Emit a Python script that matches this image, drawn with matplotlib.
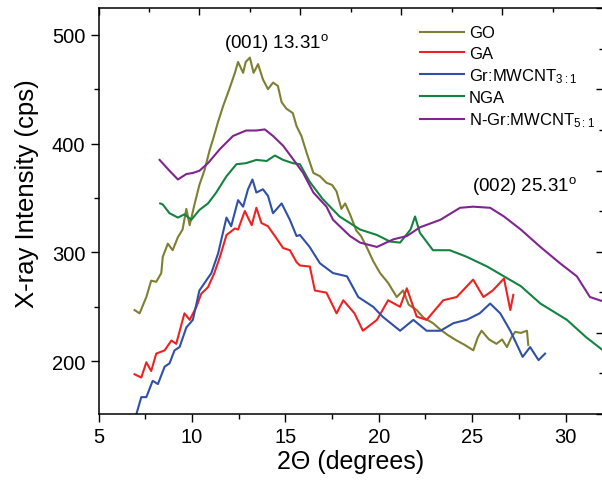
import numpy as np
import matplotlib
matplotlib.use("Agg")
import matplotlib.pyplot as plt
from matplotlib.ticker import MultipleLocator

plt.rcParams['font.family'] = ['Liberation Sans', 'DejaVu Sans']
plt.rcParams['mathtext.fontset'] = 'custom'
plt.rcParams['mathtext.rm'] = 'Liberation Sans'
plt.rcParams['mathtext.it'] = 'Liberation Sans'

# Data (2theta in degrees, intensity in cps)
go_x = [6.93, 7.2, 7.56, 7.82, 8.09, 8.36, 8.44, 8.71, 8.97, 9.25, 9.5, 9.7, 9.88,
        10.15, 10.4, 10.68, 10.95, 11.13, 11.4, 11.66, 12.0, 12.3, 12.47, 12.74,
        12.88, 13.1, 13.3, 13.54, 13.8, 14.07, 14.34, 14.6, 14.8, 15.06, 15.4,
        15.6, 15.86, 16.13, 16.5, 16.85, 17.2, 17.5, 17.74, 18.0, 18.2, 18.46,
        18.8, 19.05, 19.35, 19.7, 20.07, 20.5, 20.96, 21.3, 21.6, 22.03, 22.4,
        22.9, 23.3, 23.7, 24.17, 24.6, 25.06, 25.3, 25.5, 25.9, 26.3, 26.6,
        26.86, 27.1, 27.3, 27.6, 27.93, 28.0]
go_y = [247, 244, 259, 274, 273, 281, 296, 308, 302, 314, 321, 340, 325,
        345, 362, 376, 394, 404, 420, 434, 450, 465, 475, 465,
        475, 479, 465, 473, 459, 450, 456, 453, 438, 432, 428,
        416, 407, 392, 373, 370, 364, 362, 356, 340, 345, 335,
        320, 315, 305, 292, 281, 272, 259, 265, 252, 247, 240,
        235, 229, 224, 219, 215, 210, 222, 228, 220, 216, 220,
        213, 222, 227, 226, 228, 215]

ga_x = [6.93, 7.29, 7.56, 7.82, 8.09, 8.54, 8.9, 9.16, 9.6, 9.88, 10.24, 10.5,
        10.86, 11.2, 11.5, 11.85, 12.3, 12.47, 12.83, 13.2, 13.45, 13.72, 14.07,
        14.44, 14.88, 15.24, 15.6, 15.78, 16.31, 16.58, 17.2, 17.74, 18.1, 18.7,
        19.15, 19.9, 20.5, 21.14, 21.5, 22.03, 22.56, 23.45, 24.17, 25.05, 25.6,
        26.1, 26.7, 27.04, 27.2]
ga_y = [188, 185, 199, 191, 207, 210, 219, 216, 244, 238, 250, 262,
        268, 281, 296, 316, 322, 321, 338, 325, 341, 327, 324,
        315, 304, 302, 291, 288, 287, 265, 263, 244, 256, 244,
        228, 238, 256, 250, 267, 241, 238, 256, 259, 275, 259,
        265, 276, 247, 261]

gr_x = [7.02, 7.29, 7.56, 7.9, 8.18, 8.54, 8.8, 9.07, 9.34, 9.7, 10.05, 10.4,
        10.68, 11.04, 11.4, 11.85, 12.1, 12.47, 12.74, 13.0, 13.24, 13.45, 13.8,
        14.07, 14.34, 14.8, 15.24, 15.6, 15.78, 16.3, 16.85, 17.55, 18.3, 18.9,
        19.7, 20.2, 21.14, 21.85, 22.56, 23.3, 24.0, 24.7, 25.4, 25.96, 26.5,
        27.04, 27.7, 28.1, 28.55, 28.9]
gr_y = [151, 167, 167, 182, 179, 195, 198, 210, 213, 231, 238, 265,
        272, 281, 299, 332, 324, 348, 342, 358, 367, 355, 358,
        352, 336, 345, 330, 315, 316, 305, 290, 281, 278, 259,
        250, 241, 228, 238, 228, 228, 235, 238, 244, 253, 244,
        228, 204, 213, 201, 207]

nga_x = [8.3, 8.44, 8.8, 9.25, 9.6, 9.97, 10.4, 10.86, 11.3, 11.85, 12.38, 12.9,
         13.45, 14.0, 14.44, 14.88, 15.4, 15.78, 16.3, 17.0, 17.9, 19.0, 19.9,
         20.6, 21.14, 21.7, 21.94, 22.2, 22.9, 23.8, 24.7, 25.8, 26.7, 27.6,
         28.65, 30.07, 31.1, 32.0]
nga_y = [345, 344, 336, 332, 335, 330, 339, 345, 355, 370, 381, 382,
         385, 384, 389, 385, 382, 381, 365, 349, 333, 321, 316,
         310, 309, 321, 333, 318, 302, 302, 296, 287, 278, 269,
         253, 238, 222, 210]

ngr_x = [8.27, 8.8, 9.25, 9.7, 10.05, 10.4, 10.86, 11.5, 12.2, 12.9, 13.45, 13.9,
         14.34, 14.88, 15.4, 15.95, 16.5, 17.2, 17.55, 18.46, 19.0, 19.9, 20.78,
         21.5, 22.2, 23.3, 24.35, 25.05, 25.96, 26.7, 27.6, 28.65, 29.7, 30.6,
         31.3, 32.0]
ngr_y = [385, 375, 367, 372, 373, 375, 382, 395, 407, 412, 412, 413,
         407, 398, 386, 373, 355, 342, 330, 315, 309, 305, 312,
         315, 323, 330, 341, 342, 341, 333, 321, 305, 290, 278,
         259, 255]

series = [
    (go_x, go_y, 'GO', '#7f7f32'),
    (ga_x, ga_y, 'GA', '#ee2222'),
    (gr_x, gr_y, 'Gr:MWCNT$_{3:1}$', '#3050a8'),
    (nga_x, nga_y, 'NGA', '#13843f'),
    (ngr_x, ngr_y, 'N-Gr:MWCNT$_{5:1}$', '#80248f'),
]

fig = plt.figure(figsize=(6.02, 4.85), dpi=100)
ax = fig.add_axes([98.5 / 602, 70 / 485, 504.5 / 602, 405.7 / 485])

for x, y, label, color in series:
    ax.plot(x, y, color=color, lw=1.5, label=label)

ax.set_xlim(5, 32)
ax.set_ylim(151.5, 524.3)
ax.xaxis.set_major_locator(MultipleLocator(5))
ax.xaxis.set_minor_locator(MultipleLocator(2.5))
ax.yaxis.set_major_locator(MultipleLocator(100))
ax.yaxis.set_minor_locator(MultipleLocator(50))
ax.tick_params(which='major', direction='out', length=6, width=1.0, labelsize=14.5)
ax.tick_params(which='minor', direction='out', length=3.5, width=1.0)
ax.tick_params(top=False, right=False)
for s in ax.spines.values():
    s.set_linewidth(1.1)

ax.set_xlabel('2\u0398 (degrees)', fontsize=18, labelpad=2)
ax.set_ylabel('X-ray Intensity (cps)', fontsize=18.5)
ax.yaxis.set_label_coords(-0.118, 0.545)

ax.text(14.5, 493, '(001) 13.31$^\\mathrm{o}$', fontsize=13.5, ha='center', va='center')
ax.text(27.8, 362, '(002) 25.31$^\\mathrm{o}$', fontsize=13.5, ha='center', va='center')

ax.legend(loc='upper left', bbox_to_anchor=(0.638, 0.958), frameon=False,
          fontsize=12, handlelength=2.6, handletextpad=0.3, labelspacing=0.32,
          borderpad=0, borderaxespad=0)

# top and right ticks belong to a separately scaled frame layer
ax2 = fig.add_axes(ax.get_position(), frameon=False)
ax2.set_xlim(0, 5)
ax2.set_ylim(0, 10)
ax2.xaxis.set_major_locator(MultipleLocator(1))
ax2.xaxis.set_minor_locator(MultipleLocator(0.5))
ax2.yaxis.set_major_locator(MultipleLocator(2))
ax2.yaxis.set_minor_locator(MultipleLocator(1))
ax2.tick_params(which='both', direction='in', width=1.0, top=True, right=True,
                bottom=False, left=False, labeltop=False, labelright=False,
                labelbottom=False, labelleft=False)
ax2.tick_params(which='major', length=5)
ax2.tick_params(which='minor', length=3)
ax2.patch.set_visible(False)

fig.savefig('out.png', dpi=100)
